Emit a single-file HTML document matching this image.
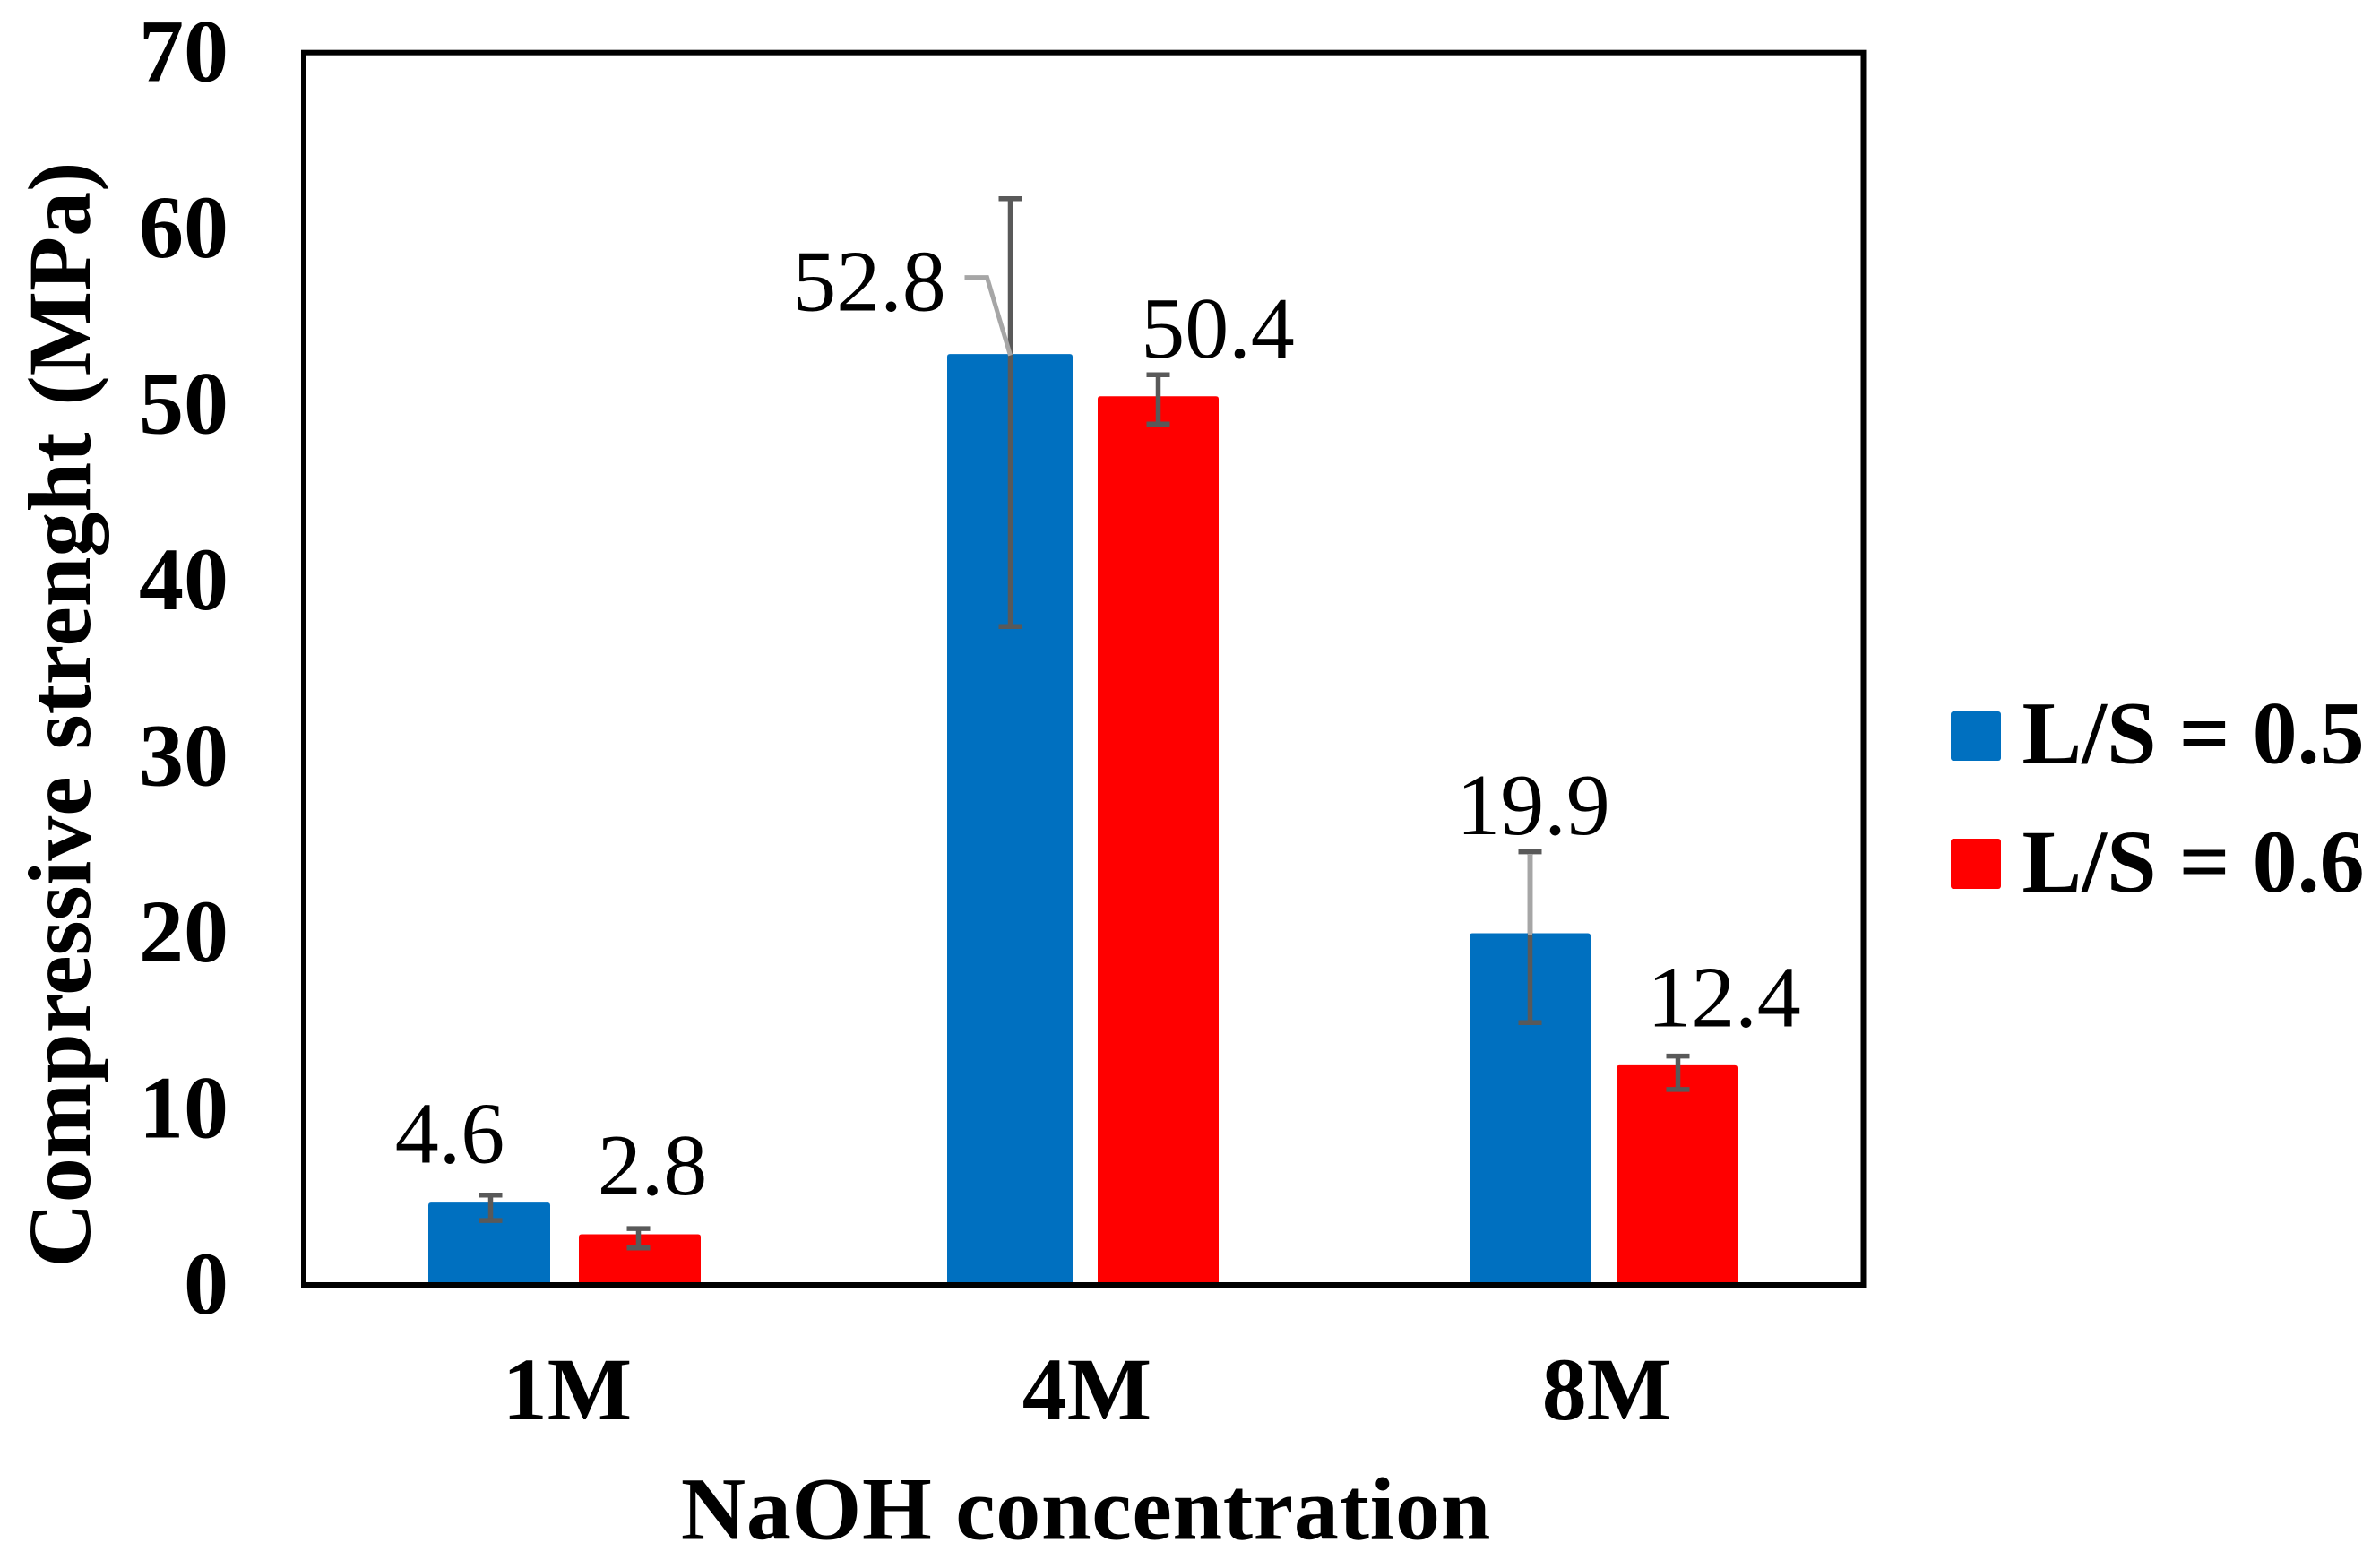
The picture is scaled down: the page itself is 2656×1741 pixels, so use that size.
<!DOCTYPE html>
<html lang="en">
<head>
<meta charset="utf-8">
<title>Compressive strength vs NaOH concentration</title>
<style>
  html, body { margin: 0; padding: 0; background: #ffffff; }
  #chart { display: block; width: 2656px; height: 1741px; background: #ffffff; }
  text { font-family: "Liberation Serif", "Times New Roman", serif; font-size: 100px; fill: #000000; }
  .bold { font-weight: bold; }
  .value { font-size: 98px; }
</style>
</head>
<body>
<svg id="chart" xmlns="http://www.w3.org/2000/svg" width="2656" height="1741" viewBox="0 0 2656 1741">
  <rect x="0" y="0" width="2656" height="1741" fill="#ffffff"/>
  <g id="bars"></g>
  <g id="leaders"></g>
  <g id="errors"></g>
  <g id="labels"></g>
  <rect x="339" y="58.7" width="1740.5" height="1375.3" fill="none" stroke="#000000" stroke-width="6"/>
  <g id="y-ticks"></g>
  <g id="x-ticks"></g>
  <text class="bold" x="1212" y="1717.5" text-anchor="middle" letter-spacing="0.7">NaOH concentration</text>
  <text class="bold" transform="translate(100 797.5) rotate(-90)" x="0" y="0" text-anchor="middle" word-spacing="5">Compressive strenght (MPa)</text>
  <g>
    <rect x="2177" y="794" width="56" height="55" rx="3" fill="#0070C0"/>
    <text class="bold" x="2256.5" y="851.5">L/S = 0.5</text>
    <rect x="2177" y="936" width="56" height="56" rx="3" fill="#FF0000"/>
    <text class="bold" x="2256.5" y="995">L/S = 0.6</text>
  </g>
</svg>
<script>
const categories = ['1M', '4M', '8M'];
const yTickLabels = [0, 10, 20, 30, 40, 50, 60, 70];
const strengthLs05 = [4.6, 52.8, 19.9];
const strengthLs06 = [2.8, 50.4, 12.4];
const errorHighLs05 = [5.1, 61.7, 24.6];
const errorLowLs05 = [3.66, 37.4, 14.9];
const errorHighLs06 = [3.2, 51.7, 13.0];
const errorLowLs06 = [2.1, 48.9, 11.1];

const SVG_NS = 'http://www.w3.org/2000/svg';
const yMax = 70;
const plotLeft = 339;
const plotBand = 580;
const plotTop = 58.7;
const plotBottom = 1434;

function yScale(v) {
  return plotBottom - (v / yMax) * (plotBottom - plotTop);
}
function groupCenter(i) {
  return plotLeft + 1 + plotBand * (i + 0.5);
}
function make(tag, attrs, parent) {
  const el = document.createElementNS(SVG_NS, tag);
  for (const k in attrs) el.setAttribute(k, attrs[k]);
  parent.appendChild(el);
  return el;
}

const barsLayer = document.getElementById('bars');
const leadersLayer = document.getElementById('leaders');
const errorsLayer = document.getElementById('errors');
const labelsLayer = document.getElementById('labels');
const yTicksLayer = document.getElementById('y-ticks');
const xTicksLayer = document.getElementById('x-ticks');

yTickLabels.forEach(function (t) {
  const el = make('text', { x: 255, y: yScale(t) + 32, 'text-anchor': 'end', class: 'bold' }, yTicksLayer);
  
  
  el.textContent = String(t);
});

categories.forEach(function (c, i) {
  const el = make('text', { x: groupCenter(i) + 3, y: 1584, 'text-anchor': 'middle', class: 'bold' }, xTicksLayer);
  
  
  el.textContent = c;
});

function barCenter(catIndex, seriesIndex) {
  return groupCenter(catIndex) + (seriesIndex === 0 ? -84 : 84);
}
function errorCenter(catIndex, seriesIndex) {
  return groupCenter(catIndex) + (seriesIndex === 0 ? -82.5 : 82.5);
}
function edgeNudge(catIndex, seriesIndex) {
  if (catIndex === 1 && seriesIndex === 0) return { left: -1, right: 3 };
  if (catIndex === 1 && seriesIndex === 1) return { left: -1, right: -2 };
  if (catIndex === 2 && seriesIndex === 0) return { left: 2, right: 1 };
  if (catIndex === 2 && seriesIndex === 1) return { left: -2, right: -3 };
  return { left: 0, right: 0 };
}

function drawBar(catIndex, seriesIndex, value, colour) {
  const cx = barCenter(catIndex, seriesIndex);
  const nudge = edgeNudge(catIndex, seriesIndex);
  const xl = cx - 68 + nudge.left;
  const xr = cx + 68 + nudge.right;
  const top = yScale(value) - 1.5;
  const bar = make('path', {
    d: 'M' + xl + ' ' + plotBottom + 'V' + (top + 3) + 'Q' + xl + ' ' + top + ' ' + (xl + 3) + ' ' + top +
       'H' + (xr - 3) + 'Q' + xr + ' ' + top + ' ' + xr + ' ' + (top + 3) + 'V' + plotBottom + 'Z',
    fill: colour
  }, barsLayer);
  
  
}

function drawError(catIndex, seriesIndex, high, low) {
  const cx = errorCenter(catIndex, seriesIndex);
  const yHigh = yScale(high);
  const yLow = yScale(low);
  const stem = make('line', { x1: cx, x2: cx, y1: yHigh, y2: yLow, stroke: '#595959', 'stroke-width': 5.5 }, errorsLayer);
  
  
  [yHigh, yLow].forEach(function (y) {
    const cap = make('line', { x1: cx - 13, x2: cx + 13, y1: y, y2: y, stroke: '#595959', 'stroke-width': 5.5 }, errorsLayer);
    
    
  });
}

function drawLabel(catIndex, seriesIndex, value, dx, dy) {
  const el = make('text', { x: barCenter(catIndex, seriesIndex) + dx, y: yScale(value) - dy, 'text-anchor': 'middle', class: 'value' }, labelsLayer);
  
  
  el.textContent = value.toFixed(1);
}

[strengthLs05, strengthLs06].forEach(function (values, s) {
  const colour = s === 0 ? '#0070C0' : '#FF0000';
  const highs = s === 0 ? errorHighLs05 : errorHighLs06;
  const lows = s === 0 ? errorLowLs05 : errorLowLs06;
  values.forEach(function (v, i) {
    drawBar(i, s, v, colour);
    drawError(i, s, highs[i], lows[i]);
  });
});

drawLabel(0, 0, strengthLs05[0], -44, 46);
drawLabel(1, 0, strengthLs05[1], -156, 50);
drawLabel(2, 0, strengthLs05[2], 5, 112);
drawLabel(0, 1, strengthLs06[0], 14, 46);
drawLabel(1, 1, strengthLs06[1], 65, 45);
drawLabel(2, 1, strengthLs06[2], 50, 45);

const elbowX = errorCenter(1, 0);
const elbowTop = yScale(strengthLs05[1]);
const elbow = make('polyline', {
  points: (elbowX - 51) + ',' + (elbowTop - 87) + ' ' + (elbowX - 26) + ',' + (elbowTop - 87) + ' ' + elbowX + ',' + elbowTop,
  fill: 'none', stroke: '#a6a6a6', 'stroke-width': 5
}, errorsLayer);



const straightX = errorCenter(2, 0);
const straightTop = yScale(strengthLs05[2]);
const straight = make('line', {
  x1: straightX, x2: straightX, y1: straightTop - 90, y2: straightTop,
  stroke: '#a6a6a6', 'stroke-width': 5
}, errorsLayer);


</script>
</body>
</html>
